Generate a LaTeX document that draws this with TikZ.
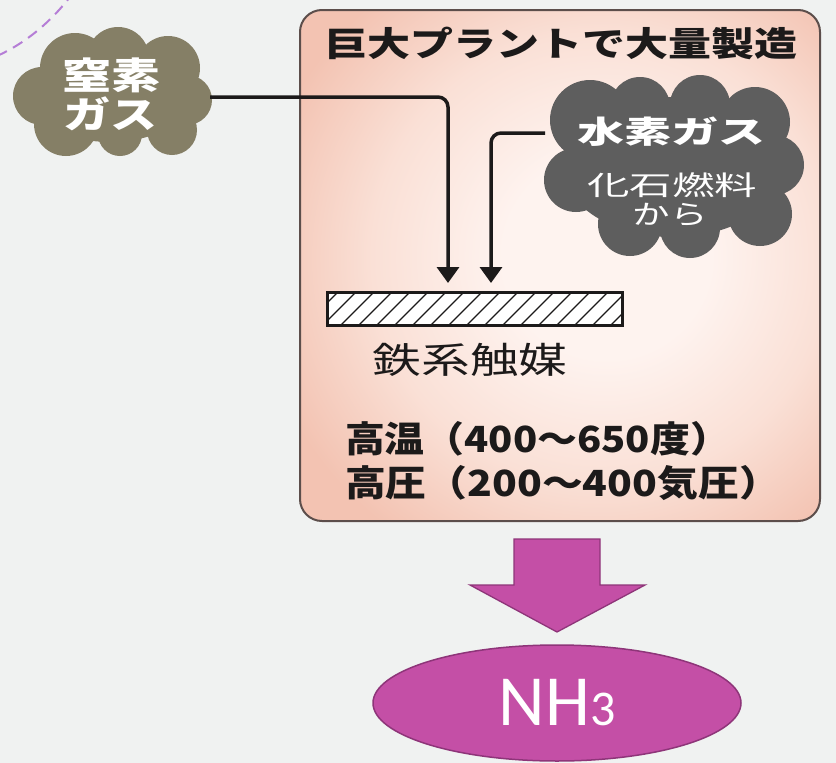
\documentclass[tikz,border=0pt]{standalone}
\usepackage{fontspec}
\usepackage{graphicx}
\newfontfamily\jp{Noto Sans CJK JP}
\newfontfamily\calfont{Carlito}
\usetikzlibrary{arrows.meta,shapes.geometric}
\newcommand\fitw[2]{\resizebox{#1pt}{\height}{#2}}
\newcommand\fs[1]{\fontsize{#1}{#1}\selectfont}
\definecolor{bg}{HTML}{F0F2F1}
\definecolor{arcc}{HTML}{B57ED6}
\definecolor{ncol}{HTML}{857F66}
\definecolor{hcol}{HTML}{5E5E5E}
\definecolor{boxin}{HTML}{FEF3EF}
\definecolor{boxmid}{HTML}{FAE0D6}
\definecolor{boxout}{HTML}{F3C3B2}
\definecolor{boxborder}{HTML}{5C4E4B}
\definecolor{mag}{HTML}{C44FA6}
\definecolor{magdark}{HTML}{8E3579}
\definecolor{ink}{HTML}{1C1A1A}
\pgfdeclareradialshading{boxshade}{\pgfpoint{5bp}{1bp}}{color(0bp)=(boxin); color(10bp)=(boxin); color(22bp)=(boxmid); color(33bp)=(boxout); color(100bp)=(boxout)}
\tikzset{
  jt/.style={inner sep=0pt, outer sep=0pt},
  conn/.style={line width=3.5pt, draw=ink, rounded corners=10pt, -{Triangle[width=22pt,length=16pt]}},
  hatch/.style={line width=1.1pt, draw=ink}
}
\begin{document}
\begin{tikzpicture}[x=1pt,y=-1pt]
\fill[bg] (0,0) rectangle (836,763);
\useasboundingbox (0,0) rectangle (836,763);
% dashed arc
\draw[arcc, line width=2pt, dash pattern=on 11pt off 7pt] (-3,56) .. controls (28,42) and (52,20) .. (70,-3);
% plant box
\shadedraw[rounded corners=22pt, draw=boxborder, line width=2pt, shading=boxshade] (300,10) rectangle (820,521);
\node[jt, font=\jp\bfseries\fs{34}, text=ink] (title) at (561,43) {\fitw{473}{巨大プラントで大量製造}};
% nitrogen cloud
\fill[ncol] (110,97) ellipse [x radius=80pt, y radius=45pt];
\foreach \cx/\cy/\r in {75/68/35, 118/58/31, 168/68/32, 187/100/25, 172/130/25, 120/134/22, 66/124/32, 42/96/29}
  \fill[ncol] (\cx,\cy) circle [radius=\r pt];
\node[jt, font=\jp\bfseries\fs{37}, text=white] (n1) at (111,75) {\fitw{98}{窒素}};
\node[jt, font=\jp\bfseries\fs{37}, text=white] (n2) at (110,114) {\fitw{94}{ガス}};
\coordinate (nout) at (210,97);
% hydrogen cloud
\fill[hcol] (673,167) ellipse [x radius=110pt, y radius=70pt];
\foreach \cx/\cy/\r in {590/120/40, 640/107/30, 700/105/30, 755/122/35, 774/165/30, 760/214/32, 690/228/30, 630/224/32, 576/180/32}
  \fill[hcol] (\cx,\cy) circle [radius=\r pt];
\node[jt, font=\jp\bfseries\fs{31}, text=white] (h1) at (671,132) {\fitw{188}{水素ガス}};
\node[jt, font=\jp\fs{27}, text=white] (h2) at (672,185) {\fitw{170}{化石燃料}};
\node[jt, font=\jp\fs{27}, text=white] (h3) at (670,215) {\fitw{75}{から}};
\coordinate (hout) at (545,133);
% catalyst bar
\node[draw=ink, line width=3pt, fill=white, minimum width=295pt, minimum height=33pt, inner sep=0pt,
  path picture={\foreach \i in {-40,-22,...,320} \draw[hatch] ([xshift=\i pt]path picture bounding box.south west) -- ++(36,-36);}] (bar) at (474.5,308.5) {};
\coordinate (t1) at (448,283);
\coordinate (t2) at (491,283);
\draw[conn] (nout) -| (t1);
\draw[conn] (hout) -| (t2);
\node[jt, font=\jp\fs{36}, text=ink] (cat) at (470,360) {\fitw{195}{鉄系触媒}};
\node[jt, anchor=west, font=\jp\bfseries\fs{36}, text=ink] (temp) at (345,439) {\fitw{385}{高温（400～650度）}};
\node[jt, anchor=west, font=\jp\bfseries\fs{36}, text=ink] (pres) at (345,483) {\fitw{435}{高圧（200～400気圧）}};
% block arrow
\filldraw[fill=mag, draw=magdark, line width=1.3pt, line join=miter] (514,539) -- (600,539) -- (600,585) -- (645,585) -- (557,632) -- (470,585) -- (514,585) -- cycle;
% NH3
\node[ellipse, fill=mag, draw=magdark, line width=1.5pt, minimum width=368pt, minimum height=116pt, inner sep=0pt, text=white, font=\calfont\fs{72}] (nh3) at (557,703) {NH{\fs{50}3}};
\end{tikzpicture}
\end{document}
